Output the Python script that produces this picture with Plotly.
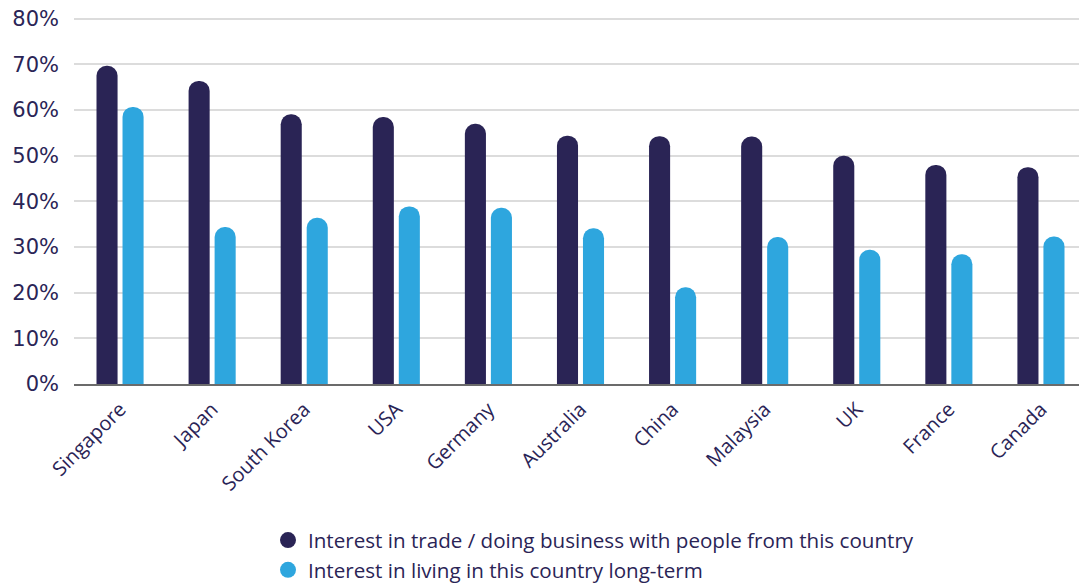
import plotly.graph_objects as go

countries = ["Singapore", "Japan", "South Korea", "USA", "Germany", "Australia",
             "China", "Malaysia", "UK", "France", "Canada"]
trade = [69.7, 66.4, 59.1, 58.5, 57.0, 54.4, 54.3, 54.2, 50.0, 48.0, 47.5]
living = [60.7, 34.4, 36.4, 38.9, 38.6, 34.1, 21.2, 32.2, 29.4, 28.4, 32.3]
series_names = ["Interest in trade / doing business with people from this country",
                "Interest in living in this country long-term"]
colors = ["#2a2455", "#2ea6de"]
y_ticks = [0, 10, 20, 30, 40, 50, 60, 70, 80]
y_ticktext = [f"{v}%" for v in y_ticks]

text_color = "#2a2456"

fig = go.Figure()
for vals, name, col in zip([trade, living], series_names, colors):
    fig.add_trace(go.Bar(x=countries, y=vals, name=name, marker_color=col,
                         marker_line_width=0, showlegend=False))
for name, col in zip(series_names, colors):
    fig.add_trace(go.Scatter(x=[None], y=[None], mode="markers", name=name,
                             marker=dict(color=col, size=22, symbol="circle"),
                             showlegend=True))

# page body has an 8px default margin, so the figure is sized to fit the window
fig.update_layout(
    width=1079, height=575,
    margin=dict(l=66, r=0, t=9, b=199, autoexpand=False),
    plot_bgcolor="white", paper_bgcolor="white",
    barmode="group", bargap=0.435, bargroupgap=0.19,
    barcornerradius=11,
    font=dict(family="Open Sans", color=text_color),
    legend=dict(x=0.1915, xanchor="left", y=-0.371, yanchor="top",
                orientation="v", font=dict(family="Open Sans", size=20.6, color=text_color),
                itemsizing="trace", tracegroupgap=0, bgcolor="rgba(0,0,0,0)"),
    xaxis=dict(showline=True, linecolor="#6b6b6b", linewidth=1.5, tickangle=-45,
               tickfont=dict(size=20, color=text_color), ticks="", showgrid=False,
               automargin=False, ticklabelstandoff=4),
    yaxis=dict(range=[0, 80.4], tickvals=y_ticks, ticktext=y_ticktext,
               showgrid=True, gridcolor="#dcdcdc", gridwidth=1.5, zeroline=False,
               tickfont=dict(family="DejaVu Sans", size=21, color=text_color), ticks="",
               ticklabelstandoff=14, automargin=False, ticklabeloverflow="allow"),
)

fig.write_html("out.html")
